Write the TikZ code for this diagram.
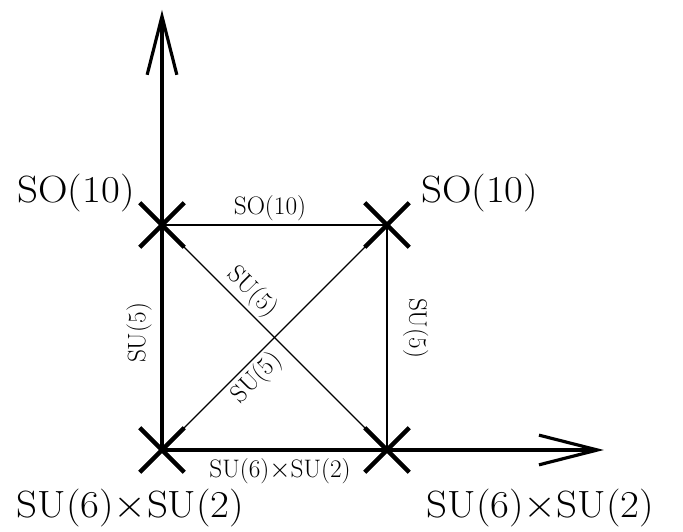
\documentclass[tikz,border=0pt]{standalone}
\usepackage{amsmath}
\usetikzlibrary{arrows.meta, positioning, shapes.misc}
\tikzset{
    grpcross/.style={cross out, draw, line width=2.5pt, minimum size=9mm, inner sep=0pt},
    grpaxis/.style={-{Straight Barb[length=13mm, width=6.6mm, line width=2pt]}, line width=2.5pt},
    grpline/.style={line width=0.8pt},
    grpbig/.style={font=\fontsize{24}{28}\selectfont, xscale=1.08},
    grpsmall/.style={font=\fontsize{16}{19}\selectfont, inner sep=2pt}
}

\begin{document}
\begin{tikzpicture}
    \useasboundingbox (-3.6,-1.822) rectangle (11.578,10);
    \node[grpcross] (O) at (0,0) {};
    \node[grpcross] (A) at (5,0) {};
    \node[grpcross] (B) at (0,5) {};
    \node[grpcross] (C) at (5,5) {};
    \coordinate (ytip) at (0,9.78);
    \coordinate (xtip) at (9.82,0);

    % Breaking chains
    \draw[grpline] (B.center) -- node[grpsmall, above, pos=0.48] {SO(10)} (C.center);
    \draw[grpline] (C.center) -- (A.center);
    \draw[grpline] (B.center) -- node[grpsmall, sloped, above, pos=0.35] {SU(5)} (A.center);
    \draw[grpline] (O.center) -- node[grpsmall, sloped, below, pos=0.37] {SU(5)} (C.center);
    \node[grpsmall, rotate=90] (suL) at (-0.51,2.6) {SU(5)};
    \node[grpsmall, rotate=-90] (suR) at (5.64,2.71) {SU(5)};

    % Axes
    \draw[grpaxis] (O.center) -- (ytip);
    \draw[grpaxis] (O.center) -- node[grpsmall, below=2pt, pos=0.267] {SU(6)$\times$SU(2)} (xtip);

    % Vertex labels
    \node[grpbig] (soL) at (-1.91,5.7) {SO(10)};
    \node[grpbig] (soR) at (7.06,5.7) {SO(10)};
    \node[grpbig] (suxL) at (-0.7,-1.3) {SU(6)$\times$SU(2)};
    \node[grpbig] (suxR) at (8.41,-1.3) {SU(6)$\times$SU(2)};

    % Crosses on top
    \foreach \v in {O,A,B,C} \node[grpcross] at (\v) {};
\end{tikzpicture}
\end{document}
